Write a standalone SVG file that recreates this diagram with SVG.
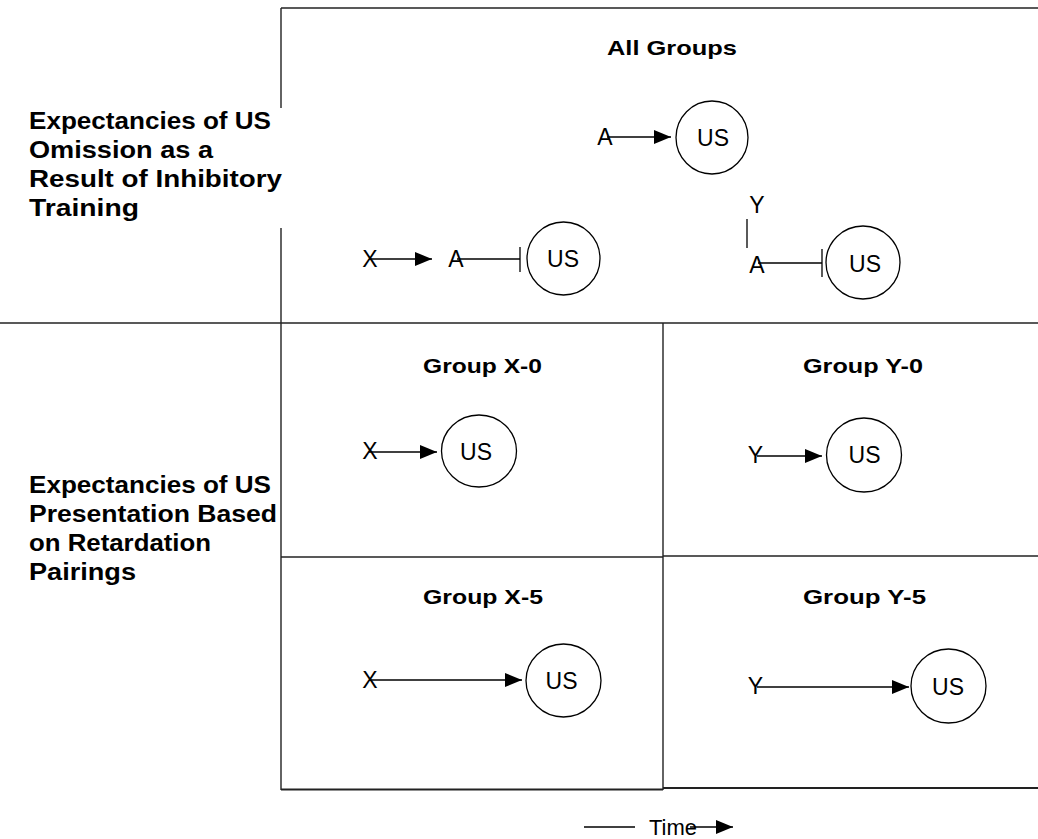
<svg xmlns="http://www.w3.org/2000/svg" width="1038" height="839" viewBox="0 0 1038 839">
<defs>
<marker id="ah" markerUnits="userSpaceOnUse" markerWidth="18" markerHeight="14" refX="17" refY="7" orient="auto">
<path d="M0,0 L17,7 L0,14 z" fill="#000"/>
</marker>
<style>
.frame{stroke:#222;stroke-width:1.4;fill:none}
.conn{stroke:#000;stroke-width:1.3;fill:none}
.us{stroke:#000;stroke-width:1.3;fill:none}
.lbl{font-family:"Liberation Sans",Arial,sans-serif;font-size:23px;fill:#000}
.ttl{font-family:"Liberation Sans",Arial,sans-serif;font-size:21px;font-weight:bold;fill:#000}
.side{font-family:"Liberation Sans",Arial,sans-serif;font-size:23px;font-weight:bold;fill:#000}
</style>
</defs>
<rect width="1038" height="839" fill="#fff"/>
<g id="frame">
<line class="frame" x1="281" y1="8" x2="1038" y2="8"/>
<line class="frame" x1="281" y1="8" x2="281" y2="790"/>
<line class="frame" x1="0" y1="323" x2="1038" y2="323"/>
<line class="frame" x1="663" y1="323" x2="663" y2="790"/>
<line class="frame" x1="281" y1="557" x2="663" y2="557"/>
<line class="frame" x1="663" y1="556" x2="1038" y2="556"/>
<line class="frame" x1="281" y1="789.5" x2="663" y2="789.5" style="stroke-width:2"/>
<line class="frame" x1="663" y1="788" x2="1038" y2="788" style="stroke-width:2"/>
</g>
<g id="label-omission">
<rect x="20" y="108" width="280" height="120" fill="#fff"/>
<text class="side" x="29" y="129" textLength="242" lengthAdjust="spacingAndGlyphs">Expectancies of US</text>
<text class="side" x="29" y="158" textLength="184" lengthAdjust="spacingAndGlyphs">Omission as a</text>
<text class="side" x="29" y="187" textLength="253" lengthAdjust="spacingAndGlyphs">Result of Inhibitory</text>
<text class="side" x="29" y="216" textLength="110" lengthAdjust="spacingAndGlyphs">Training</text>
</g>
<g id="label-presentation">
<text class="side" x="29" y="493" textLength="242" lengthAdjust="spacingAndGlyphs">Expectancies of US</text>
<text class="side" x="29" y="522" textLength="248" lengthAdjust="spacingAndGlyphs">Presentation Based</text>
<text class="side" x="29" y="551" textLength="182" lengthAdjust="spacingAndGlyphs">on Retardation</text>
<text class="side" x="29" y="580" textLength="107" lengthAdjust="spacingAndGlyphs">Pairings</text>
</g>
<g id="title-all"><text class="ttl" x="607" y="55" textLength="130" lengthAdjust="spacingAndGlyphs">All Groups</text></g>
<g id="title-x0"><text class="ttl" x="423" y="373" textLength="119" lengthAdjust="spacingAndGlyphs">Group X-0</text></g>
<g id="title-y0"><text class="ttl" x="803" y="373" textLength="120" lengthAdjust="spacingAndGlyphs">Group Y-0</text></g>
<g id="title-x5"><text class="ttl" x="423" y="604" textLength="120" lengthAdjust="spacingAndGlyphs">Group X-5</text></g>
<g id="title-y5"><text class="ttl" x="803" y="604" textLength="123" lengthAdjust="spacingAndGlyphs">Group Y-5</text></g>

<g id="all-a-us">
<text class="lbl" x="605" y="145" text-anchor="middle">A</text>
<ellipse class="us" cx="712" cy="137.5" rx="36" ry="36.5"/>
<text class="lbl" x="713" y="146" text-anchor="middle">US</text>
</g>
<g id="all-x-a-us">
<text class="lbl" x="370" y="267" text-anchor="middle">X</text>
<text class="lbl" x="456" y="267" text-anchor="middle">A</text>
<ellipse class="us" cx="563.5" cy="258.5" rx="36.5" ry="36.5"/>
<text class="lbl" x="563" y="267" text-anchor="middle">US</text>
</g>
<g id="all-y-a-us">
<text class="lbl" x="757" y="213" text-anchor="middle">Y</text>
<text class="lbl" x="757" y="273" text-anchor="middle">A</text>
<ellipse class="us" cx="863" cy="262.5" rx="37" ry="36.5"/>
<text class="lbl" x="865" y="272" text-anchor="middle">US</text>
</g>
<g id="x0">
<text class="lbl" x="370" y="459" text-anchor="middle">X</text>
<ellipse class="us" cx="479" cy="451" rx="37.5" ry="36"/>
<text class="lbl" x="476" y="460" text-anchor="middle">US</text>
</g>
<g id="y0">
<text class="lbl" x="755.5" y="463" text-anchor="middle">Y</text>
<ellipse class="us" cx="864" cy="455" rx="37.5" ry="37"/>
<text class="lbl" x="864.5" y="463" text-anchor="middle">US</text>
</g>
<g id="x5">
<text class="lbl" x="370" y="688" text-anchor="middle">X</text>
<ellipse class="us" cx="563.5" cy="680.5" rx="37.5" ry="36.5"/>
<text class="lbl" x="561.5" y="689" text-anchor="middle">US</text>
</g>
<g id="y5">
<text class="lbl" x="755.5" y="694" text-anchor="middle">Y</text>
<ellipse class="us" cx="948.5" cy="686" rx="37.5" ry="37"/>
<text class="lbl" x="948" y="695" text-anchor="middle">US</text>
</g>
<g id="time">
<text class="lbl" x="649" y="835" style="font-size:22px">Time</text>
</g>

<g id="connectors">
<line class="conn" x1="607" y1="137" x2="671" y2="137" marker-end="url(#ah)"/>
<line class="conn" x1="369" y1="259" x2="432" y2="259" marker-end="url(#ah)"/>
<line class="conn" x1="457" y1="259" x2="520" y2="259"/>
<line class="conn" x1="520" y1="247" x2="520" y2="272"/>
<line class="conn" x1="747" y1="219" x2="747" y2="248"/>
<line class="conn" x1="758" y1="263" x2="822" y2="263"/>
<line class="conn" x1="822" y1="249" x2="822" y2="277"/>
<line class="conn" x1="369" y1="452" x2="437" y2="452" marker-end="url(#ah)"/>
<line class="conn" x1="757" y1="456" x2="822" y2="456" marker-end="url(#ah)"/>
<line class="conn" x1="369" y1="680" x2="522" y2="680" marker-end="url(#ah)"/>
<line class="conn" x1="757" y1="687" x2="909" y2="687" marker-end="url(#ah)"/>
<line class="conn" x1="584" y1="827" x2="635" y2="827"/>
<line class="conn" x1="690" y1="827" x2="733" y2="827" marker-end="url(#ah)"/>
</g>
</svg>
